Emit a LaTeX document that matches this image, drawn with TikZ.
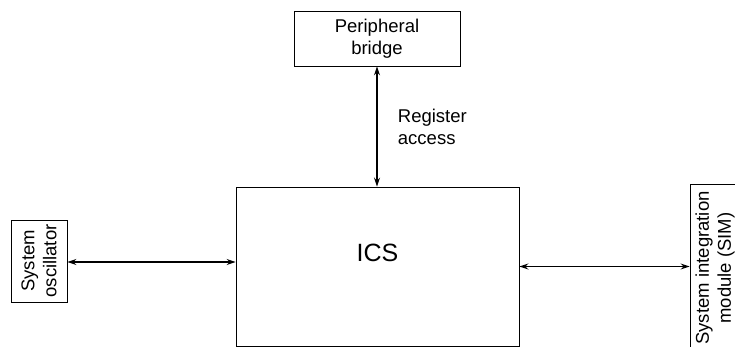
\documentclass[tikz,border=0pt]{standalone}
\usepackage{fontspec}
\setmainfont{Liberation Sans}
\usetikzlibrary{arrows.meta,positioning}
\begin{document}
\begin{tikzpicture}[x=1pt, y=1pt,
  block/.style = {shape=rectangle, draw, line width=0.9pt, align=center,
    inner sep=0pt, font=\fontsize{18.5}{22}\selectfont},
  link/.style = {line width=1.2pt,
    {Stealth[length=9pt,width=6pt,inset=3pt]}-{Stealth[length=9pt,width=6pt,inset=3pt]}}]
  \useasboundingbox (0,0) rectangle (735,347);
  % blocks
  \node[block, minimum width=283, minimum height=159,
    label={[font=\fontsize{25}{30}\selectfont, yshift=14pt]center:ICS}]
    (ics) at (377.5,80.5) {};
  \node[block, minimum width=166, minimum height=55]
    (bridge) at (377,308.5) {Peripheral\\bridge};
  \node[block, rotate=90, minimum width=82, minimum height=56]
    (osc) at (39,86) {System\\oscillator};
  \node[block, minimum width=50, minimum height=200,
    label={[rotate=90, align=center, font=\fontsize{18.5}{22}\selectfont,
      xshift=16pt]center:System integration\\module (SIM)}]
    (sim) at (715,63) {};
  % connectors
  \draw[link] (bridge.south) -- (bridge.south |- ics.north)
    node[midway, right=17pt, align=left, font=\fontsize{18.5}{22}\selectfont]
    {Register\\access};
  \draw[link] (osc.south |- 0,85) -- (ics.west |- 0,85);
  \draw[link] (ics.east) -- (ics.east -| sim.west);
\end{tikzpicture}
\end{document}
